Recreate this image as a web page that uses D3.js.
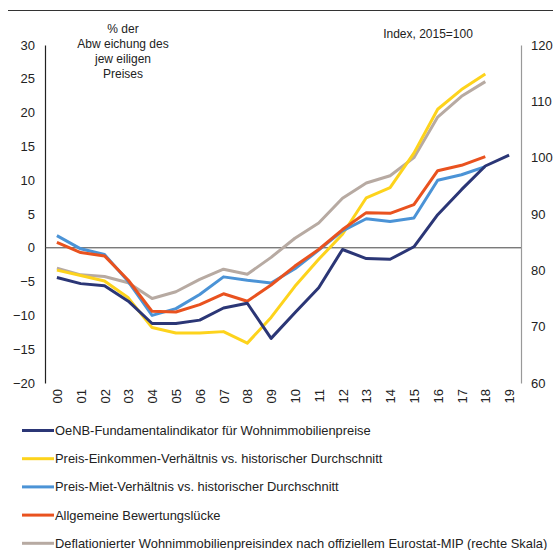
<!DOCTYPE html>
<html><head><meta charset="utf-8">
<script src="https://cdn.jsdelivr.net/npm/d3@7"></script>
<style>
body{margin:0;background:#fff;}
svg{display:block;font-family:"Liberation Sans",Arial,sans-serif;}
</style></head>
<body><svg id="c" width="553" height="550"></svg>
<script>
const years = ["00","01","02","03","04","05","06","07","08","09","10","11","12","13","14","15","16","17","18","19"];
const leftTicks = [-20,-15,-10,-5,0,5,10,15,20,25,30];
const rightTicks = [60,70,80,90,100,110,120];

const oenb     = [-4.4,-5.3,-5.6,-7.9,-11.2,-11.2,-10.7,-8.9,-8.2,-13.4,-9.6,-5.9,-0.25,-1.6,-1.7,0.15,4.9,8.6,12.1,13.7];
const einkommen= [-3.3,-4.1,-4.9,-7.4,-11.8,-12.6,-12.6,-12.4,-14.1,-10.3,-5.7,-1.7,2.0,7.4,8.9,14.0,20.5,23.4,25.7,null];
const miete    = [1.8,-0.15,-1.0,-5.0,-10.0,-9.0,-6.9,-4.3,-4.8,-5.2,-3.1,-0.35,2.5,4.3,3.9,4.4,10.0,10.8,12.0,null];
const luecke   = [0.8,-0.7,-1.2,-4.8,-9.4,-9.5,-8.4,-6.8,-7.9,-5.5,-2.7,-0.25,2.7,5.2,5.1,6.4,11.4,12.2,13.5,null];
const mip      = [80.4,79.2,78.9,77.8,75.0,76.2,78.4,80.2,79.3,82.3,85.7,88.4,92.8,95.5,96.8,100.0,107.2,110.9,113.5,null];

const seriesNames = [
  "OeNB-Fundamentalindikator für Wohnimmobilienpreise",
  "Preis-Einkommen-Verhältnis vs. historischer Durchschnitt",
  "Preis-Miet-Verhältnis vs. historischer Durchschnitt",
  "Allgemeine Bewertungslücke",
  "Deflationierter Wohnimmobilienpreisindex nach offiziellem Eurostat-MIP (rechte Skala)"
];
const colors = ["#2b3676","#fdd31c","#4b93d6","#e9521f","#b7aaa2"];

const svg = d3.select("#c");
const L = 45, R = 521, T = 45, B = 383;
const FONT = "Liberation Sans, Arial, sans-serif";

const x = d3.scalePoint().domain(years).range([L,R]).padding(0.5);
const yL = d3.scaleLinear().domain([-20,30]).range([B,T]);
const yR = d3.scaleLinear().domain([60,120]).range([B,T]);

// top rule
svg.append("line").attr("x1",8).attr("x2",553).attr("y1",10.5).attr("y2",10.5)
  .attr("stroke","#333").attr("stroke-width",1);

// left axis
const ga = svg.append("g").attr("transform",`translate(${L},0)`)
  .call(d3.axisLeft(yL).tickValues(leftTicks).tickSize(0).tickPadding(10).tickFormat(d3.format("d")));
ga.select(".domain").attr("stroke","#222").attr("stroke-width",1.2);
ga.selectAll("text").attr("font-size",13).attr("fill","#222").attr("font-family",FONT);

// right axis
const gr = svg.append("g").attr("transform",`translate(${R},0)`)
  .call(d3.axisRight(yR).tickValues(rightTicks).tickSize(0).tickPadding(10).tickFormat(d3.format("d")));
gr.select(".domain").attr("stroke","#999").attr("stroke-width",1.2);
gr.selectAll("text").attr("font-size",13).attr("fill","#222").attr("font-family",FONT);

// x labels
const gx = svg.append("g").attr("transform",`translate(0,389)`)
  .call(d3.axisBottom(x).tickSize(0).tickPadding(0));
gx.select(".domain").remove();
gx.selectAll("text")
  .attr("font-size",13).attr("fill","#222").attr("font-family",FONT)
  .attr("transform","rotate(-90)").attr("text-anchor","end")
  .attr("x",0).attr("y",0).attr("dy","0.35em");

// zero line
svg.append("line").attr("x1",L).attr("x2",R).attr("y1",yL(0)).attr("y2",yL(0))
  .attr("stroke","#444").attr("stroke-width",1);

// lines
const lineL = d3.line().defined(d=>d.v!==null).x(d=>x(d.y)).y(d=>yL(d.v));
const lineR = d3.line().defined(d=>d.v!==null).x(d=>x(d.y)).y(d=>yR(d.v));
const toPts = arr => arr.map((v,i)=>({y:years[i],v}));
const draw = [
  {data:mip, c:colors[4], f:lineR},
  {data:einkommen, c:colors[1], f:lineL},
  {data:miete, c:colors[2], f:lineL},
  {data:luecke, c:colors[3], f:lineL},
  {data:oenb, c:colors[0], f:lineL}
];
draw.forEach(s=>{
  svg.append("path").attr("d",s.f(toPts(s.data))).attr("fill","none")
    .attr("stroke",s.c).attr("stroke-width",3).attr("stroke-linejoin","round");
});

// annotations
const ann = ["% der","Abw eichung des","jew eiligen","Preises"];
svg.append("text").attr("x",123).attr("y",33).attr("text-anchor","middle")
  .attr("font-size",12).attr("fill","#222")
  .selectAll("tspan").data(ann).join("tspan")
  .attr("x",123).attr("dy",(d,i)=>i===0?0:15).text(d=>d);
svg.append("text").attr("x",428).attr("y",38).attr("text-anchor","middle")
  .attr("font-size",12).attr("fill","#222").text("Index, 2015=100");

// legend
const lg = svg.append("g");
seriesNames.forEach((n,i)=>{
  const yy = 430.5 + 28.2*i;
  lg.append("line").attr("x1",22).attr("x2",54).attr("y1",yy).attr("y2",yy)
    .attr("stroke",colors[i]).attr("stroke-width",3);
  lg.append("text").attr("x",55).attr("y",yy).attr("dy","0.35em")
    .attr("font-size",12.9).attr("fill","#222").text(n);
});
</script></body></html>
